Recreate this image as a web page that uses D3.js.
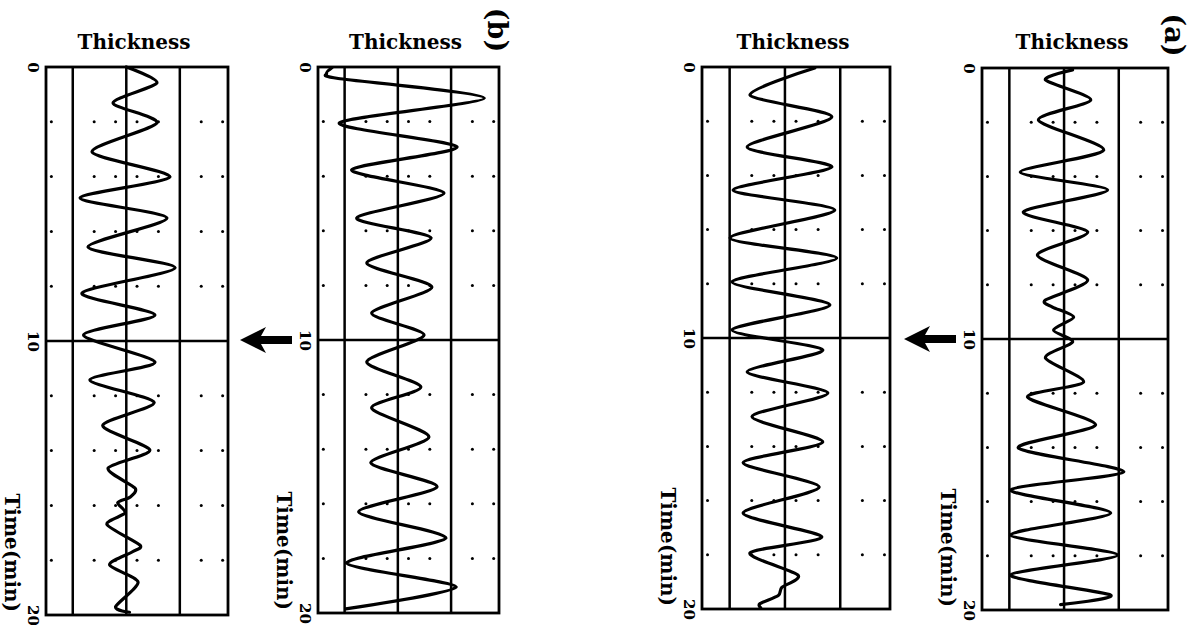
<!DOCTYPE html>
<html>
<head>
<meta charset="utf-8">
<script src="https://cdn.jsdelivr.net/npm/d3@7"></script>
<style>
  html, body { margin: 0; padding: 0; background: #fff; }
  svg { display: block; }
  text { font-family: "DejaVu Serif", serif; font-weight: bold; fill: #000; }
</style>
</head>
<body>
<svg id="chart" width="1199" height="625"></svg>
<script>
// ---------------- data ----------------
const panelNames = ["b-left", "b-right", "a-left", "a-right"];
const timeTicks = [0, 10, 20];
const timeTickLabels = ["0", "10", "20"];
const dotTimes = [2, 4, 6, 8, 12, 14, 16, 18];
const dotThickness = [-3.5, -1.5, -0.5, 0.5, 1.5, 3.5, 4.5];
const gridThickness = [-2.5, 0, 2.5];
const markTime = 10;
const panelLetters = ["(b)", "(a)"];
const xTitle = "Thickness";
const yTitle = "Time(min)";

const timeB1 = [0.0, 0.58, 1.31, 2.04, 3.1, 4.01, 4.78, 5.51, 6.57, 7.33, 8.25, 9.05, 9.78, 10.77, 11.42, 12.24, 13.08, 13.98, 14.64, 15.37, 15.7, 15.9, 16.28, 16.7, 17.45, 17.7, 18.17, 18.8, 19.7, 19.9];
const thickB1 = [0.0, 1.43, -0.62, 1.43, -1.6, 2.04, -2.16, 1.9, -1.79, 2.28, -2.07, 1.34, -2.0, 1.34, -1.7, 1.3, -1.1, 1.1, -0.85, 0.41, 0.17, -0.4, -0.06, -0.9, 0.64, 0.27, -0.78, 0.55, -0.5, 0.15];

const timeB2 = [0.03, 0.25, 0.42, 1.14, 2.05, 2.93, 3.77, 4.62, 5.53, 6.26, 7.18, 8.06, 9.01, 9.82, 10.8, 11.72, 12.49, 13.55, 14.5, 15.38, 16.3, 17.25, 18.17, 19.05, 19.85];
const thickB2 = [-3.1, -3.35, -2.8, 4.06, -2.75, 2.78, -2.17, 2.17, -1.93, 1.56, -1.46, 1.6, -1.23, 1.23, -1.46, 1.08, -1.23, 1.46, -1.27, 1.84, -1.84, 2.26, -2.41, 2.74, -2.45];

const timeA1 = [0.04, 1.03, 1.84, 2.95, 3.69, 4.54, 5.28, 6.31, 7.05, 7.93, 8.78, 9.7, 10.44, 11.25, 12.03, 12.9, 13.84, 14.6, 15.5, 16.46, 17.34, 17.93, 18.75, 19.2, 19.5, 19.8, 19.95];
const thickA1 = [1.35, -1.58, 2.12, -1.71, 2.12, -2.34, 2.25, -2.48, 2.34, -2.39, 2.03, -2.39, 1.71, -1.71, 1.94, -1.49, 1.71, -1.89, 1.55, -1.89, 1.67, -1.58, 0.59, -0.14, -0.3, -1.13, -1.1];

const timeA2 = [0.07, 0.44, 1.18, 1.92, 3.03, 3.84, 4.5, 5.31, 6.05, 6.9, 7.82, 8.56, 8.82, 9.19, 9.67, 10.11, 10.7, 11.59, 12.14, 13.17, 14.02, 14.9, 15.57, 16.42, 17.23, 17.97, 18.71, 19.45, 19.8];
const thickA2 = [0.39, -0.85, 1.22, -1.17, 1.81, -2.0, 1.99, -1.86, 1.08, -1.22, 1.08, -0.85, -0.53, 0.44, -0.48, 0.39, -0.85, 0.89, -1.67, 1.44, -2.09, 2.73, -2.45, 2.13, -2.45, 2.45, -2.45, 2.13, -0.16];

const seriesTimes = [timeB1, timeB2, timeA1, timeA2];
const seriesThick = [thickB1, thickB2, thickA1, thickA2];

// ---------------- layout (positions only) ----------------
const frames = [
  { x0: 46,  x1: 228,  y0: 67, y1: 615 },
  { x0: 318, x1: 499,  y0: 67, y1: 613 },
  { x0: 702, x1: 890,  y0: 67, y1: 609 },
  { x0: 982, x1: 1168, y0: 68, y1: 610 }
];
const thickDomain = [-3.75, 4.75];
const timeDomain = [0, 20];

const svg = d3.select("#chart");

const scales = frames.map(f => ({
  x: d3.scaleLinear().domain(thickDomain).range([f.x0, f.x1]),
  y: d3.scaleLinear().domain(timeDomain).range([f.y0, f.y1])
}));

panelNames.forEach((name, i) => {
  const f = frames[i];
  const { x, y } = scales[i];
  const g = svg.append("g").attr("class", "panel " + name);

  // dotted grid
  const dots = [];
  dotTimes.forEach(t => dotThickness.forEach(th => dots.push([th, t])));
  g.selectAll("circle.dot").data(dots).enter().append("circle")
    .attr("class", "dot")
    .attr("cx", d => x(d[0])).attr("cy", d => y(d[1]))
    .attr("r", 1.5).attr("fill", "#000");

  // vertical lines
  g.selectAll("line.v").data(gridThickness).enter().append("line")
    .attr("class", "v")
    .attr("x1", d => x(d)).attr("x2", d => x(d))
    .attr("y1", y(timeDomain[0])).attr("y2", y(timeDomain[1]))
    .attr("stroke", "#000").attr("stroke-width", 2.5);

  // horizontal line at t=10
  g.append("line")
    .attr("x1", x(thickDomain[0])).attr("x2", x(thickDomain[1]))
    .attr("y1", y(markTime)).attr("y2", y(markTime))
    .attr("stroke", "#000").attr("stroke-width", 2.5);

  // frame
  g.append("rect")
    .attr("x", x(thickDomain[0])).attr("y", y(timeDomain[0]))
    .attr("width", x(thickDomain[1]) - x(thickDomain[0]))
    .attr("height", y(timeDomain[1]) - y(timeDomain[0]))
    .attr("fill", "none").attr("stroke", "#000").attr("stroke-width", 2.8);

  // curve
  const pts = seriesTimes[i].map((t, k) => [seriesThick[i][k], t]);
  const line = d3.line()
    .x(d => x(d[0])).y(d => y(d[1]))
    .curve(d3.curveCardinal.tension(0.25));
  g.append("path").datum(pts)
    .attr("d", line)
    .attr("fill", "none").attr("stroke", "#000")
    .attr("stroke-width", 3.2).attr("stroke-linejoin", "round")
    .attr("stroke-linecap", "round");

  // time axis labels (rotated)
  const axis = d3.axisLeft(y).tickValues(timeTicks)
    .tickFormat((d, k) => timeTickLabels[k]).tickSize(0);
  const ag = g.append("g").attr("transform", `translate(${f.x0},0)`).call(axis);
  ag.select(".domain").remove();
  ag.selectAll("text")
    .attr("x", null).attr("dy", null)
    .attr("text-anchor", "middle")
    .attr("dominant-baseline", "central")
    .attr("transform", "translate(-13,0) rotate(90)")
    .style("font-family", "'DejaVu Serif', serif")
    .style("font-weight", "bold")
    .style("font-size", "15px");

  // Thickness title
  g.append("text")
    .attr("x", (f.x0 + f.x1) / 2 - 3).attr("y", 49)
    .attr("text-anchor", "middle")
    .style("font-size", "20px")
    .text(xTitle);

  // Time(min) title
  g.append("text")
    .attr("text-anchor", "end")
    .attr("dominant-baseline", "central")
    .attr("transform", `translate(${f.x0 - 34},${f.y1 - 3}) rotate(90)`)
    .style("font-size", "20px")
    .text(yTitle);
});

// arrows pointing at t=10, left of the right panel of each pair
[1, 3].forEach(i => {
  const f = frames[i];
  const yy = scales[i].y(markTime);
  const tip = f.x0 - 78, tail = f.x0 - 26;
  const p = d3.path();
  p.moveTo(tip, yy);
  p.lineTo(tip + 26, yy - 13);
  p.lineTo(tip + 21, yy - 4);
  p.lineTo(tail, yy - 4);
  p.lineTo(tail, yy + 4);
  p.lineTo(tip + 21, yy + 4);
  p.lineTo(tip + 26, yy + 13);
  p.closePath();
  svg.append("path").attr("d", p.toString()).attr("fill", "#000");
});

// panel letters
[[1, 0, -2, 30], [3, 1, 6, 35]].forEach(([i, k, dx, yy]) => {
  svg.append("text")
    .attr("text-anchor", "middle")
    .attr("dominant-baseline", "central")
    .attr("transform", `translate(${frames[i].x1 + dx},${yy}) rotate(90)`)
    .style("font-size", "27px")
    .text(panelLetters[k]);
});
</script>
</body>
</html>
